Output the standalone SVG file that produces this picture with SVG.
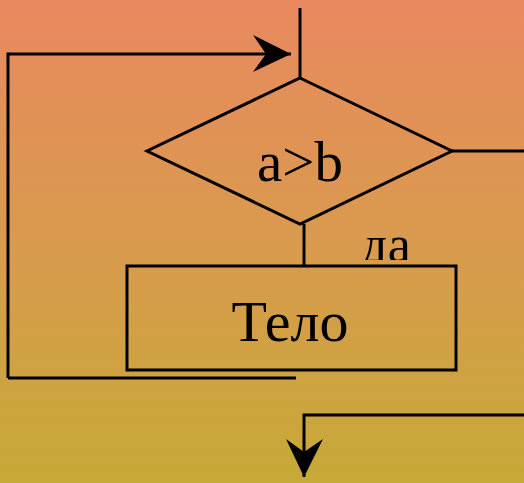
<svg xmlns="http://www.w3.org/2000/svg" width="524" height="483" viewBox="0 0 524 483">
<defs>
<linearGradient id="bg" gradientUnits="userSpaceOnUse" x1="0" y1="0" x2="0" y2="483">
<stop offset="0" stop-color="#E9895F"/>
<stop offset="0.5" stop-color="#D99A4E"/>
<stop offset="1" stop-color="#C6A936"/>
</linearGradient>
<clipPath id="clipDa">
<rect x="340" y="200" width="100" height="60"/>
</clipPath>
<marker id="arr" viewBox="0 0 40 38" refX="38" refY="19" markerWidth="40" markerHeight="38" markerUnits="userSpaceOnUse" orient="auto">
<path d="M0,0 L38,19 L0,37 L13,19 Z" fill="#000"/>
</marker>
</defs>
<style>
.ln{fill:none;stroke:#000;stroke-width:3}
.tx{font-family:"Liberation Serif","Times New Roman",serif;fill:#000}
</style>
<rect x="0" y="0" width="524" height="483" fill="url(#bg)"/>
<g id="connectors">
<path class="ln" d="M300,8 L300,78"/>
<path class="ln" d="M8,378 L8,54 L291,54" marker-end="url(#arr)"/>
<path class="ln" d="M8,378 L296,378"/>
<path class="ln" d="M452,151 L524,151"/>
<path class="ln" d="M304,224 L304,266"/>
<path class="ln" d="M524,415 L304,415 L304,477" marker-end="url(#arr)"/>
<text class="tx" x="386" y="262" font-size="52" text-anchor="middle" clip-path="url(#clipDa)">да</text>
</g>
<g id="cond">
<polygon class="ln" points="300,78 452,151 300,224 147,151"/>
<text class="tx" x="300" y="181" font-size="57" text-anchor="middle">a&gt;b</text>
</g>
<g id="body">
<rect x="127" y="266" width="329" height="104" fill="url(#bg)" stroke="#000" stroke-width="3"/>
<text class="tx" x="290" y="341" font-size="58" text-anchor="middle">Тело</text>
</g>
</svg>
